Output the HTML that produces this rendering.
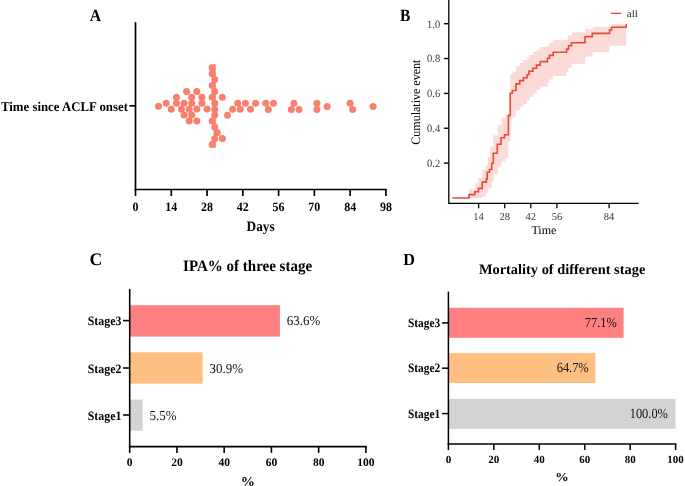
<!DOCTYPE html>
<html><head><meta charset="utf-8"><style>
html,body{margin:0;padding:0;background:#fff;width:685px;height:486px;overflow:hidden}
svg{display:block;will-change:transform}
text{font-family:"Liberation Serif",serif;text-rendering:geometricPrecision}
</style></head><body>
<svg width="685" height="486" viewBox="0 0 685 486">
<rect width="685" height="486" fill="#fff"/>
<line x1="135.5" y1="22.2" x2="135.5" y2="190.3" stroke="#000" stroke-width="1.7"/>
<line x1="134.65" y1="189.5" x2="386.75" y2="189.5" stroke="#000" stroke-width="1.7"/>
<line x1="129.4" y1="105.8" x2="135.5" y2="105.8" stroke="#000" stroke-width="1.7"/>
<line x1="135.50" y1="189.5" x2="135.50" y2="196" stroke="#000" stroke-width="1.7"/>
<text transform="translate(135.50,210.70) scale(1.0,1.06)" font-size="12" font-weight="bold" text-anchor="middle">0</text>
<line x1="171.27" y1="189.5" x2="171.27" y2="196" stroke="#000" stroke-width="1.7"/>
<text transform="translate(171.27,210.70) scale(1.0,1.06)" font-size="12" font-weight="bold" text-anchor="middle">14</text>
<line x1="207.04" y1="189.5" x2="207.04" y2="196" stroke="#000" stroke-width="1.7"/>
<text transform="translate(207.04,210.70) scale(1.0,1.06)" font-size="12" font-weight="bold" text-anchor="middle">28</text>
<line x1="242.81" y1="189.5" x2="242.81" y2="196" stroke="#000" stroke-width="1.7"/>
<text transform="translate(242.81,210.70) scale(1.0,1.06)" font-size="12" font-weight="bold" text-anchor="middle">42</text>
<line x1="278.59" y1="189.5" x2="278.59" y2="196" stroke="#000" stroke-width="1.7"/>
<text transform="translate(278.59,210.70) scale(1.0,1.06)" font-size="12" font-weight="bold" text-anchor="middle">56</text>
<line x1="314.36" y1="189.5" x2="314.36" y2="196" stroke="#000" stroke-width="1.7"/>
<text transform="translate(314.36,210.70) scale(1.0,1.06)" font-size="12" font-weight="bold" text-anchor="middle">70</text>
<line x1="350.13" y1="189.5" x2="350.13" y2="196" stroke="#000" stroke-width="1.7"/>
<text transform="translate(350.13,210.70) scale(1.0,1.06)" font-size="12" font-weight="bold" text-anchor="middle">84</text>
<line x1="385.90" y1="189.5" x2="385.90" y2="196" stroke="#000" stroke-width="1.7"/>
<text transform="translate(385.90,210.70) scale(1.0,1.06)" font-size="12" font-weight="bold" text-anchor="middle">98</text>
<text transform="translate(260.60,230.80) scale(1.0,1.08)" font-size="13.3" font-weight="bold" text-anchor="middle">Days</text>
<text transform="translate(1.00,110.85) scale(1.0,1.04)" font-size="12.8" font-weight="bold">Time since ACLF onset</text>
<text transform="translate(89.80,20.50) scale(1.0,1.08)" font-size="15.8" font-weight="bold">A</text>
<circle cx="158.50" cy="106.30" r="3.5" fill="#F9806F"/>
<circle cx="166.16" cy="103.30" r="3.5" fill="#F9806F"/>
<circle cx="171.27" cy="109.30" r="3.5" fill="#F9806F"/>
<circle cx="176.38" cy="97.20" r="3.5" fill="#F9806F"/>
<circle cx="176.38" cy="103.20" r="3.5" fill="#F9806F"/>
<circle cx="186.60" cy="91.40" r="3.5" fill="#F9806F"/>
<circle cx="184.05" cy="103.20" r="3.5" fill="#F9806F"/>
<circle cx="181.49" cy="109.20" r="3.5" fill="#F9806F"/>
<circle cx="184.05" cy="115.10" r="3.5" fill="#F9806F"/>
<circle cx="189.16" cy="109.20" r="3.5" fill="#F9806F"/>
<circle cx="196.82" cy="91.40" r="3.5" fill="#F9806F"/>
<circle cx="191.71" cy="97.20" r="3.5" fill="#F9806F"/>
<circle cx="201.93" cy="97.20" r="3.5" fill="#F9806F"/>
<circle cx="191.71" cy="103.20" r="3.5" fill="#F9806F"/>
<circle cx="201.93" cy="103.20" r="3.5" fill="#F9806F"/>
<circle cx="222.37" cy="97.30" r="3.5" fill="#F9806F"/>
<circle cx="207.04" cy="109.10" r="3.5" fill="#F9806F"/>
<circle cx="196.82" cy="109.10" r="3.5" fill="#F9806F"/>
<circle cx="191.71" cy="115.10" r="3.5" fill="#F9806F"/>
<circle cx="189.16" cy="121.00" r="3.5" fill="#F9806F"/>
<circle cx="196.82" cy="121.00" r="3.5" fill="#F9806F"/>
<circle cx="222.37" cy="138.50" r="3.5" fill="#F9806F"/>
<circle cx="227.48" cy="115.20" r="3.5" fill="#F9806F"/>
<circle cx="232.59" cy="109.30" r="3.5" fill="#F9806F"/>
<circle cx="237.70" cy="103.30" r="3.5" fill="#F9806F"/>
<circle cx="240.26" cy="109.30" r="3.5" fill="#F9806F"/>
<circle cx="245.37" cy="103.30" r="3.5" fill="#F9806F"/>
<circle cx="250.48" cy="109.30" r="3.5" fill="#F9806F"/>
<circle cx="255.59" cy="103.30" r="3.5" fill="#F9806F"/>
<circle cx="265.81" cy="103.30" r="3.5" fill="#F9806F"/>
<circle cx="268.37" cy="109.40" r="3.5" fill="#F9806F"/>
<circle cx="273.48" cy="103.30" r="3.5" fill="#F9806F"/>
<circle cx="293.92" cy="103.30" r="3.5" fill="#F9806F"/>
<circle cx="291.36" cy="109.40" r="3.5" fill="#F9806F"/>
<circle cx="299.03" cy="109.40" r="3.5" fill="#F9806F"/>
<circle cx="316.91" cy="103.30" r="3.5" fill="#F9806F"/>
<circle cx="316.91" cy="109.40" r="3.5" fill="#F9806F"/>
<circle cx="327.13" cy="106.40" r="3.5" fill="#F9806F"/>
<circle cx="350.13" cy="103.20" r="3.5" fill="#F9806F"/>
<circle cx="352.68" cy="109.40" r="3.5" fill="#F9806F"/>
<circle cx="373.12" cy="106.40" r="3.5" fill="#F9806F"/>
<circle cx="212.15" cy="67.80" r="3.5" fill="#F9806F"/>
<circle cx="212.15" cy="73.71" r="3.5" fill="#F9806F"/>
<circle cx="214.71" cy="79.61" r="3.5" fill="#F9806F"/>
<circle cx="212.15" cy="85.52" r="3.5" fill="#F9806F"/>
<circle cx="214.71" cy="91.43" r="3.5" fill="#F9806F"/>
<circle cx="212.15" cy="97.34" r="3.5" fill="#F9806F"/>
<circle cx="214.71" cy="103.25" r="3.5" fill="#F9806F"/>
<circle cx="214.71" cy="109.15" r="3.5" fill="#F9806F"/>
<circle cx="214.71" cy="115.06" r="3.5" fill="#F9806F"/>
<circle cx="212.15" cy="120.97" r="3.5" fill="#F9806F"/>
<circle cx="214.71" cy="126.88" r="3.5" fill="#F9806F"/>
<circle cx="217.26" cy="132.79" r="3.5" fill="#F9806F"/>
<circle cx="214.71" cy="138.69" r="3.5" fill="#F9806F"/>
<circle cx="212.15" cy="144.60" r="3.5" fill="#F9806F"/>
<rect x="213.7" y="64.1" width="2" height="83.7" fill="#F9806F"/>
<path d="M448.8,0 V203.4 H638.7" fill="none" stroke="#000" stroke-width="1.3" stroke-linejoin="round"/>
<line x1="443.9" y1="163.10" x2="448.8" y2="163.10" stroke="#000" stroke-width="1.4"/>
<text transform="translate(440.20,167.00) scale(1.0,1.06)" font-size="10.5" text-anchor="end" fill="#3a3a3a">0.2</text>
<line x1="443.9" y1="128.25" x2="448.8" y2="128.25" stroke="#000" stroke-width="1.4"/>
<text transform="translate(440.20,132.15) scale(1.0,1.06)" font-size="10.5" text-anchor="end" fill="#3a3a3a">0.4</text>
<line x1="443.9" y1="93.40" x2="448.8" y2="93.40" stroke="#000" stroke-width="1.4"/>
<text transform="translate(440.20,97.30) scale(1.0,1.06)" font-size="10.5" text-anchor="end" fill="#3a3a3a">0.6</text>
<line x1="443.9" y1="58.55" x2="448.8" y2="58.55" stroke="#000" stroke-width="1.4"/>
<text transform="translate(440.20,62.45) scale(1.0,1.06)" font-size="10.5" text-anchor="end" fill="#3a3a3a">0.8</text>
<line x1="443.9" y1="23.70" x2="448.8" y2="23.70" stroke="#000" stroke-width="1.4"/>
<text transform="translate(440.20,27.60) scale(1.0,1.06)" font-size="10.5" text-anchor="end" fill="#3a3a3a">1.0</text>
<line x1="478.60" y1="203.4" x2="478.60" y2="208.3" stroke="#000" stroke-width="1.3"/>
<text x="478.60" y="220.1" font-size="10.5" fill="#3a3a3a" text-anchor="middle">14</text>
<line x1="504.70" y1="203.4" x2="504.70" y2="208.3" stroke="#000" stroke-width="1.3"/>
<text x="504.70" y="220.1" font-size="10.5" fill="#3a3a3a" text-anchor="middle">28</text>
<line x1="530.80" y1="203.4" x2="530.80" y2="208.3" stroke="#000" stroke-width="1.3"/>
<text x="530.80" y="220.1" font-size="10.5" fill="#3a3a3a" text-anchor="middle">42</text>
<line x1="556.90" y1="203.4" x2="556.90" y2="208.3" stroke="#000" stroke-width="1.3"/>
<text x="556.90" y="220.1" font-size="10.5" fill="#3a3a3a" text-anchor="middle">56</text>
<line x1="609.10" y1="203.4" x2="609.10" y2="208.3" stroke="#000" stroke-width="1.3"/>
<text x="609.10" y="220.1" font-size="10.5" fill="#3a3a3a" text-anchor="middle">84</text>
<text x="543.9" text-anchor="middle" y="233.8" font-size="12">Time</text>
<text transform="translate(420.40,102.20) rotate(-90) scale(1.0,1.07)" font-size="12" text-anchor="middle">Cumulative event</text>
<text transform="translate(400.00,20.50) scale(1.0,1.11)" font-size="15.5" font-weight="bold">B</text>
<line x1="610.9" y1="13.4" x2="621.2" y2="13.4" stroke="#E64B35" stroke-width="1.3"/>
<text transform="translate(626.80,16.90) scale(1.0,0.9)" font-size="11" fill="#222">all</text>
<polygon points="468.9,189.2 474.8,189.2 474.8,183.3 478.5,183.3 478.5,178.0 482.2,178.0 482.2,169.5 486.0,169.5 486.0,165.0 487.9,165.0 487.9,156.9 490.3,156.9 490.3,146.4 493.4,146.4 493.4,135.3 497.8,135.3 497.8,124.8 501.5,124.8 501.5,118.0 505.2,118.0 505.2,114.9 510.2,114.9 510.2,74.4 512.3,74.4 512.3,71.5 516.0,71.5 516.0,66.2 519.7,66.2 519.7,62.9 523.3,62.9 523.3,60.0 527.4,60.0 527.4,57.6 529.0,57.6 529.0,54.7 533.2,54.7 533.2,52.1 536.9,52.1 536.9,49.5 540.2,49.5 540.2,47.0 548.0,47.0 548.0,44.8 549.6,44.8 549.6,42.2 553.3,42.2 553.3,39.7 567.7,39.7 567.7,35.5 572.1,35.5 572.1,32.6 585.3,32.6 585.3,29.0 592.6,29.0 592.6,26.8 611.5,26.8 611.5,24.3 626.2,24.3 626.2,45.8 609.5,45.8 609.5,52.3 592.6,52.3 592.6,56.7 585.3,56.7 585.3,64.0 571.4,64.0 571.4,68.2 568.3,68.2 568.3,71.9 566.3,71.9 566.3,76.0 553.1,76.0 553.1,79.3 549.6,79.3 549.6,83.0 547.7,83.0 547.7,86.7 540.2,86.7 540.2,90.0 536.6,90.0 536.6,93.7 533.2,93.7 533.2,96.8 529.7,96.8 529.7,100.3 527.0,100.3 527.0,104.0 523.5,104.0 523.5,106.9 519.8,106.9 519.8,110.2 515.5,110.2 515.5,116.7 512.3,116.7 512.3,119.6 510.5,119.6 510.5,141.5 508.4,141.5 508.4,158.3 505.2,158.3 505.2,161.5 501.5,161.5 501.5,166.8 497.8,166.8 497.8,174.8 493.7,174.8 493.7,182.2 491.7,182.2 491.7,188.4 488.4,188.4 488.4,192.9 486.0,192.9 486.0,196.2 482.0,196.2 482.0,198.0 468.9,198.0" fill="#E64B35" fill-opacity="0.2"/>
<path d="M452.4,197.95 H469.0 V194.6 H474.8 V191.7 H478.5 V188.4 H482.2 V182.1 H486.3 V179.1 H487.2 V172.3 H489.5 V169.5 H491.7 V163.3 H493.3 V153.3 H497.3 V144.3 H501.0 V137.7 H504.5 V134.7 H508.4 V115.4 H510.2 V93.3 H512.3 V90.5 H516.0 V83.9 H519.7 V80.6 H523.4 V77.7 H527.1 V74.8 H528.9 V71.3 H532.9 V68.2 H536.6 V65.1 H540.3 V61.6 H547.5 V58.3 H549.4 V55.4 H553.2 V52.2 H566.6 V49.1 H568.5 V45.8 H571.4 V42.8 H585.0 V36.6 H592.3 V33.4 H609.5 V30.1 H611.5 V27.2 H626.2 V24.3" fill="none" stroke="#E64B35" stroke-width="1.6" stroke-linejoin="miter"/>
<text transform="translate(89.50,265.10)" font-size="17.6" font-weight="bold">C</text>
<text transform="translate(247.60,270.60) scale(1.0,1.06)" font-size="15" font-weight="bold" text-anchor="middle">IPA% of three stage</text>
<rect x="129.70" y="305.2" width="150.22" height="31.40" fill="#FF8080"/>
<line x1="123.1" y1="320.6" x2="129.7" y2="320.6" stroke="#000" stroke-width="1.6"/>
<text transform="translate(121.40,325.40) scale(1.0,1.07)" font-size="11.9" font-weight="bold" text-anchor="end">Stage3</text>
<text transform="translate(286.72,325.10) scale(1.0,1.05)" font-size="13" fill="#111">63.6%</text>
<rect x="129.70" y="352.3" width="72.99" height="31.30" fill="#FFBF80"/>
<line x1="123.1" y1="368.0" x2="129.7" y2="368.0" stroke="#000" stroke-width="1.6"/>
<text transform="translate(121.40,372.80) scale(1.0,1.07)" font-size="11.9" font-weight="bold" text-anchor="end">Stage2</text>
<text transform="translate(209.49,372.50) scale(1.0,1.05)" font-size="13" fill="#111">30.9%</text>
<rect x="129.70" y="399.6" width="12.99" height="31.10" fill="#D3D3D3"/>
<line x1="123.1" y1="415.0" x2="129.7" y2="415.0" stroke="#000" stroke-width="1.6"/>
<text transform="translate(121.40,419.80) scale(1.0,1.07)" font-size="11.9" font-weight="bold" text-anchor="end">Stage1</text>
<text transform="translate(149.49,419.50) scale(1.0,1.05)" font-size="13" fill="#111">5.5%</text>
<line x1="129.7" y1="288.9" x2="129.7" y2="447.4" stroke="#000" stroke-width="1.6"/>
<line x1="128.89999999999998" y1="446.6" x2="366.7" y2="446.6" stroke="#000" stroke-width="1.6"/>
<line x1="129.70" y1="446.6" x2="129.70" y2="452.9" stroke="#000" stroke-width="1.6"/>
<text transform="translate(129.70,466.10)" font-size="11.5" font-weight="bold" text-anchor="middle">0</text>
<line x1="176.94" y1="446.6" x2="176.94" y2="452.9" stroke="#000" stroke-width="1.6"/>
<text transform="translate(176.94,466.10)" font-size="11.5" font-weight="bold" text-anchor="middle">20</text>
<line x1="224.18" y1="446.6" x2="224.18" y2="452.9" stroke="#000" stroke-width="1.6"/>
<text transform="translate(224.18,466.10)" font-size="11.5" font-weight="bold" text-anchor="middle">40</text>
<line x1="271.42" y1="446.6" x2="271.42" y2="452.9" stroke="#000" stroke-width="1.6"/>
<text transform="translate(271.42,466.10)" font-size="11.5" font-weight="bold" text-anchor="middle">60</text>
<line x1="318.66" y1="446.6" x2="318.66" y2="452.9" stroke="#000" stroke-width="1.6"/>
<text transform="translate(318.66,466.10)" font-size="11.5" font-weight="bold" text-anchor="middle">80</text>
<line x1="365.90" y1="446.6" x2="365.90" y2="452.9" stroke="#000" stroke-width="1.6"/>
<text transform="translate(365.90,466.10)" font-size="11.5" font-weight="bold" text-anchor="middle">100</text>
<text transform="translate(247.80,485.50) scale(1.06,1.0)" font-size="13.4" font-weight="bold" text-anchor="middle">%</text>
<text transform="translate(403.20,264.70) scale(1.0,1.05)" font-size="16.2" font-weight="bold">D</text>
<text transform="translate(562.10,273.80)" font-size="14.4" font-weight="bold" text-anchor="middle">Mortality of different stage</text>
<rect x="448.40" y="307.8" width="175.17" height="30.00" fill="#FF8080"/>
<line x1="442" y1="322.9" x2="448.4" y2="322.9" stroke="#000" stroke-width="1.5"/>
<text transform="translate(440.20,326.90) scale(1.0,1.12)" font-size="11.4" font-weight="bold" text-anchor="end">Stage3</text>
<text transform="translate(616.87,327.00) scale(1.0,1.12)" font-size="12.4" text-anchor="end" fill="#111">77.1%</text>
<rect x="448.40" y="353.1" width="147.00" height="29.90" fill="#FFBF80"/>
<line x1="442" y1="368.2" x2="448.4" y2="368.2" stroke="#000" stroke-width="1.5"/>
<text transform="translate(440.20,372.20) scale(1.0,1.12)" font-size="11.4" font-weight="bold" text-anchor="end">Stage2</text>
<text transform="translate(588.70,372.30) scale(1.0,1.12)" font-size="12.4" text-anchor="end" fill="#111">64.7%</text>
<rect x="448.40" y="398.8" width="227.20" height="30.00" fill="#D3D3D3"/>
<line x1="442" y1="413.6" x2="448.4" y2="413.6" stroke="#000" stroke-width="1.5"/>
<text transform="translate(440.20,417.60) scale(1.0,1.12)" font-size="11.4" font-weight="bold" text-anchor="end">Stage1</text>
<text transform="translate(667.90,417.70) scale(1.0,1.12)" font-size="12.4" text-anchor="end" fill="#111">100.0%</text>
<line x1="448.4" y1="291.6" x2="448.4" y2="444.8" stroke="#000" stroke-width="1.5"/>
<line x1="447.65" y1="444.1" x2="676.35" y2="444.1" stroke="#000" stroke-width="1.5"/>
<line x1="448.40" y1="444.1" x2="448.40" y2="450" stroke="#000" stroke-width="1.5"/>
<text transform="translate(448.40,462.90)" font-size="11" font-weight="bold" text-anchor="middle">0</text>
<line x1="493.84" y1="444.1" x2="493.84" y2="450" stroke="#000" stroke-width="1.5"/>
<text transform="translate(493.84,462.90)" font-size="11" font-weight="bold" text-anchor="middle">20</text>
<line x1="539.28" y1="444.1" x2="539.28" y2="450" stroke="#000" stroke-width="1.5"/>
<text transform="translate(539.28,462.90)" font-size="11" font-weight="bold" text-anchor="middle">40</text>
<line x1="584.72" y1="444.1" x2="584.72" y2="450" stroke="#000" stroke-width="1.5"/>
<text transform="translate(584.72,462.90)" font-size="11" font-weight="bold" text-anchor="middle">60</text>
<line x1="630.16" y1="444.1" x2="630.16" y2="450" stroke="#000" stroke-width="1.5"/>
<text transform="translate(630.16,462.90)" font-size="11" font-weight="bold" text-anchor="middle">80</text>
<line x1="675.60" y1="444.1" x2="675.60" y2="450" stroke="#000" stroke-width="1.5"/>
<text transform="translate(675.60,462.90)" font-size="11" font-weight="bold" text-anchor="middle">100</text>
<text transform="translate(562.00,481.20) scale(1.1,1.0)" font-size="12.2" font-weight="bold" text-anchor="middle">%</text>
</svg>
</body></html>
